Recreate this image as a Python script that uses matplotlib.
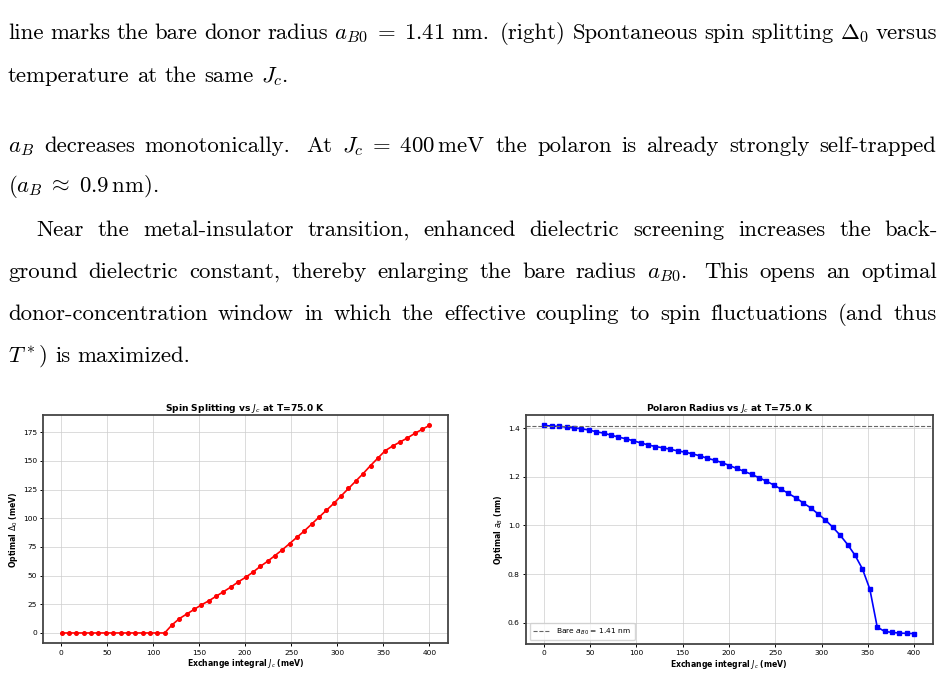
import numpy as np
import matplotlib
matplotlib.use("Agg")
import matplotlib.pyplot as plt

# exchange integral grid (meV)
Jc = np.linspace(1, 400, 51)

# optimal spin splitting Delta_0 (meV) at T = 75 K
delta0 = [0, 0, 0, 0, 0, 0, 0, 0, 0, 0, 0, 0, 0, 0, 0,
          7.0, 12.5, 16.5, 20.5, 24.5, 28.0, 32.0, 36.0, 40.0, 44.5,
          48.5, 53.0, 58.0, 62.5, 67.5, 72.5, 78.0, 83.5, 89.0, 95.0,
          101.0, 107.0, 113.0, 119.5, 126.0, 132.5, 139.0, 146.0, 152.5, 159.0,
          163.0, 166.5, 170.0, 174.0, 177.5, 181.0]

# optimal polaron radius a_B (nm)
aB = [1.411, 1.408, 1.407, 1.404, 1.401, 1.397, 1.392, 1.385, 1.379, 1.371,
      1.363, 1.356, 1.348, 1.339, 1.331, 1.324, 1.319, 1.313, 1.306, 1.301,
      1.294, 1.286, 1.276, 1.268, 1.258, 1.246, 1.234, 1.222, 1.210, 1.196,
      1.182, 1.166, 1.149, 1.131, 1.113, 1.092, 1.072, 1.047, 1.022, 0.992,
      0.959, 0.921, 0.877, 0.821, 0.738, 0.582, 0.564, 0.560, 0.557, 0.556,
      0.555]

aB0 = 1.41

W, H = 944, 674
fig = plt.figure(figsize=(W / 100, H / 100), dpi=100)

# ---- paragraph text above the plots ----
lines = [
    (39, 8, 937, "line marks the bare donor radius $a_{B0}\\;=\\;1.41$ nm. (right) Spontaneous spin splitting $\\Delta_0$ versus"),
    (82, 8, None, "temperature at the same $J_c$."),
    (152, 8, 936, "$a_B$ decreases monotonically. At $J_c\\;=\\;400\\,\\mathrm{meV}$ the polaron is already strongly self-trapped"),
    (192, 8, None, "$(a_B\\;\\approx\\;0.9\\,\\mathrm{nm})$."),
    (236, 36, 938, "Near the metal-insulator transition, enhanced dielectric screening increases the back-"),
    (278, 8, 937, "ground dielectric constant, thereby enlarging the bare radius $a_{B0}$. This opens an optimal"),
    (320, 8, 937, "donor-concentration window in which the effective coupling to spin fluctuations (and thus"),
    (362, 8, None, "$T^*$) is maximized."),
]


def split_words(s):
    # split on spaces that are not inside $...$
    out, cur, inmath = [], "", False
    for ch in s:
        if ch == "$":
            inmath = not inmath
        if ch == " " and not inmath:
            if cur:
                out.append(cur)
            cur = ""
        else:
            cur += ch
    if cur:
        out.append(cur)
    return out


fs = 16.4
space = fs * 100 / 72 * 0.333
renderer = fig.canvas.get_renderer()
for yb, x0, x1, s in lines:
    words = split_words(s)
    txts = [fig.text(0, 1 - yb / H, w, fontsize=fs, family="cmr10",
                     math_fontfamily="cm", va="baseline", ha="left")
            for w in words]
    widths = [t.get_window_extent(renderer).width for t in txts]
    # sentence ends get a wider gap, as TeX does
    wts = [1.6 if w.endswith(".") else 1.0 for w in words[:-1]]
    if x1 is None or len(words) < 2:
        unit = space
    else:
        unit = (x1 - x0 - sum(widths)) / sum(wts)
    x = x0
    for i, (t, w) in enumerate(zip(txts, widths)):
        t.set_x(x / W)
        if i < len(wts):
            x += w + unit * wts[i]

# ---- plots ----
title_kw = dict(fontsize=6.6, fontweight="bold")
label_kw = dict(fontsize=5.6, fontweight="bold")


def style(ax):
    ax.grid(True, color="#cccccc", alpha=0.7, linewidth=0.7)
    ax.tick_params(labelsize=5.4, length=2.5, width=0.7, pad=2)
    for sp in ax.spines.values():
        sp.set_linewidth(1.3)
        sp.set_color("#444444")


ax1 = fig.add_axes([0.0459, 0.0455, 0.4284, 0.3387])
ax1.plot(Jc, delta0, "o-", color="red", markersize=2.6, linewidth=1.2)
ax1.set_title("Spin Splitting vs $J_c$ at T=75.0 K", pad=3, **title_kw)
ax1.set_xlabel("Exchange integral $J_c$ (meV)", labelpad=1, **label_kw)
ax1.set_ylabel("Optimal $\\Delta_0$ (meV)", labelpad=2, **label_kw)
ax1.set_xticks([0, 50, 100, 150, 200, 250, 300, 350, 400])
ax1.set_yticks([0, 25, 50, 75, 100, 125, 150, 175])
style(ax1)

ax2 = fig.add_axes([0.5572, 0.0445, 0.4308, 0.3398])
ax2.plot(Jc, aB, "s-", color="blue", markersize=2.5, linewidth=1.2)
ax2.axhline(aB0, color="#666666", linestyle="--", linewidth=0.8,
            label="Bare $a_{B0}$ = 1.41 nm")
ax2.set_title("Polaron Radius vs $J_c$ at T=75.0 K", pad=3, **title_kw)
ax2.set_xlabel("Exchange integral $J_c$ (meV)", labelpad=1, **label_kw)
ax2.set_ylabel("Optimal $a_B$ (nm)", labelpad=2, **label_kw)
ax2.set_xticks([0, 50, 100, 150, 200, 250, 300, 350, 400])
ax2.set_yticks([0.6, 0.8, 1.0, 1.2, 1.4])
style(ax2)
ax2.legend(loc="lower left", fontsize=5.4, handlelength=2.2, borderpad=0.5,
           framealpha=0.8)

fig.savefig("out.png", dpi=100)
